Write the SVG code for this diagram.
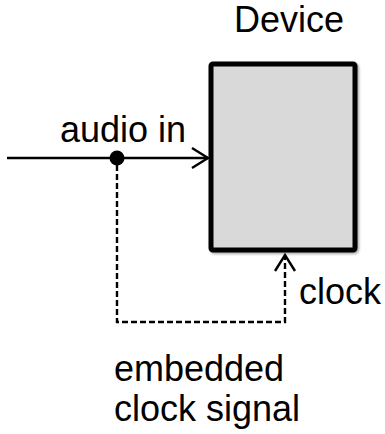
<svg xmlns="http://www.w3.org/2000/svg" width="385" height="434" viewBox="0 0 385 434">
  <style>
    text { font-family: "Liberation Sans", Arial, sans-serif; font-size: 36px; fill: #000; }
    .device { fill: #d9d9d9; stroke: #000; stroke-width: 5; }
    .wire { fill: none; stroke: #000; stroke-width: 2.4; }
    .dashed { stroke-dasharray: 6 3; }
    .head { fill: none; stroke: #000; stroke-width: 2.4; stroke-linejoin: miter; }
  </style>
  <defs>
    <filter id="shadow" x="-10%" y="-10%" width="125%" height="125%">
      <feDropShadow dx="1.5" dy="1.5" stdDeviation="1.2" flood-color="#000" flood-opacity="0.35"/>
    </filter>
  </defs>

  <g id="device">
    <rect class="device" x="211" y="64" width="144" height="186" rx="2" filter="url(#shadow)"/>
    <text x="234" y="32">Device</text>
  </g>

  <g id="labels">
    <text x="60" y="142">audio in</text>
    <text x="299" y="304">clock</text>
    <text x="114" y="381">embedded</text>
    <text x="114" y="421">clock signal</text>
  </g>

  <g id="connectors">
    <!-- audio input into the device -->
    <line class="wire" x1="7" y1="158" x2="208" y2="158"/>
    <polyline class="head" points="192,148 208,158 192,168"/>
    <!-- tap point -->
    <circle cx="117" cy="158" r="7.5" fill="#000"/>
    <!-- clock recovered from the audio stream -->
    <polyline class="wire dashed" points="117,165 117,322 285,322 285,255"/>
    <polyline class="head" points="275,271 285,255 295,271"/>
  </g>
</svg>
